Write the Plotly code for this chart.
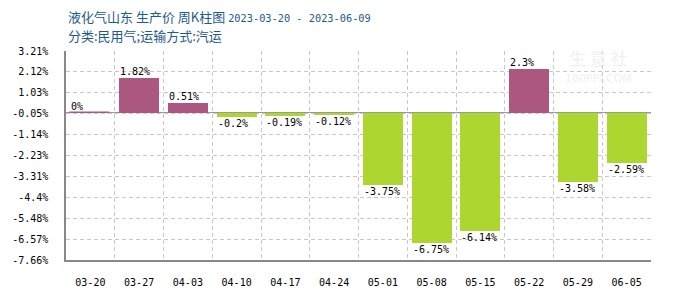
import plotly.graph_objects as go

categories = ["03-20", "03-27", "04-03", "04-10", "04-17", "04-24",
              "05-01", "05-08", "05-15", "05-22", "05-29", "06-05"]
values = [0, 1.82, 0.51, -0.2, -0.19, -0.12, -3.75, -6.75, -6.14, 2.3, -3.58, -2.59]
label_texts = ["0%", "1.82%", "0.51%", "-0.2%", "-0.19%", "-0.12%",
               "-3.75%", "-6.75%", "-6.14%", "2.3%", "-3.58%", "-2.59%"]
ytick_vals = [3.21, 2.12, 1.03, -0.05, -1.14, -2.23, -3.31, -4.4, -5.48, -6.57, -7.66]
ytick_text = ["3.21%", "2.12%", "1.03%", "-0.05%", "-1.14%", "-2.23%",
              "-3.31%", "-4.4%", "-5.48%", "-6.57%", "-7.66%"]

POS = "#AC5780"
NEG = "#ADD631"
MONO = "DejaVu Sans Mono"
BW = 0.82

xs = list(range(len(categories)))
colors = [POS if v >= 0 else NEG for v in values]

fig = go.Figure()
fig.add_trace(go.Bar(
    x=xs, y=values, width=BW,
    marker=dict(color=colors, line=dict(color=colors, width=[1.5 if v == 0 else 0 for v in values])),
    hoverinfo="skip",
))

annotations = []
for i, (v, t) in enumerate(zip(values, label_texts)):
    annotations.append(dict(
        x=i - BW / 2 - 0.02, y=v, xref="x", yref="y", text=t, showarrow=False,
        xanchor="left", yanchor="bottom" if v >= 0 else "top",
        font=dict(family=MONO, size=10, color="#000"),
        yshift=-1 if v >= 0 else 1,
    ))

annotations.append(dict(
    x=0, y=1.165, xref="paper", yref="paper", xanchor="left", yanchor="middle", showarrow=False,
    text="液化气山东 生产价 周K柱图 <span style='font-family:DejaVu Sans Mono;font-size:10.3px'>2023-03-20 - 2023-06-09</span>",
    font=dict(family="Noto Sans CJK SC", size=13, color="#1E5A8C"),
))
annotations.append(dict(
    x=0, y=1.072, xref="paper", yref="paper", xanchor="left", yanchor="middle", showarrow=False,
    text="分类:民用气;运输方式:汽运",
    font=dict(family="Noto Sans CJK SC", size=13, color="#1E5A8C"),
))
annotations.append(dict(
    x=0.91, y=0.97, xref="paper", yref="paper", xanchor="center", yanchor="middle", showarrow=False,
    text="生 意 社", font=dict(family="Noto Sans CJK SC", size=17, color="#F0F0F3"),
))
annotations.append(dict(
    x=0.91, y=0.87, xref="paper", yref="paper", xanchor="center", yanchor="middle", showarrow=False,
    text="100PPI.COM", font=dict(family="DejaVu Sans", size=11, color="#F0F0F3"),
))

fig.update_layout(
    width=700, height=300,
    margin=dict(l=60, r=49, t=51, b=30),
    paper_bgcolor="white", plot_bgcolor="white",
    showlegend=False,
    annotations=annotations,
    bargap=0,
    font=dict(family=MONO, size=10, color="#000"),
)
fig.update_xaxes(
    range=[-0.5, len(categories) - 0.5],
    tickmode="array", tickvals=xs, ticktext=categories,
    showgrid=False, zeroline=False,
    showline=True, linecolor="#888888", linewidth=1.5,
    ticks="", ticklabelstandoff=12,
    tickfont=dict(family=MONO, size=10, color="#000"),
    minor=dict(tickvals=[i - 0.5 for i in range(len(categories) + 1)], showgrid=True,
               gridcolor="#C8C8C8", griddash="4px,3px", gridwidth=1, ticks=""),
)
fig.update_yaxes(
    range=[-7.66, 3.21],
    tickmode="array", tickvals=ytick_vals, ticktext=ytick_text,
    showgrid=True, gridcolor="#C8C8C8", griddash="4px,3px", gridwidth=1,
    zeroline=True, zerolinecolor="#999999", zerolinewidth=1,
    showline=True, linecolor="#888888", linewidth=1.5,
    ticks="", ticklabelstandoff=14,
    tickfont=dict(family=MONO, size=10, color="#000"),
)

fig.write_html("out.html")
